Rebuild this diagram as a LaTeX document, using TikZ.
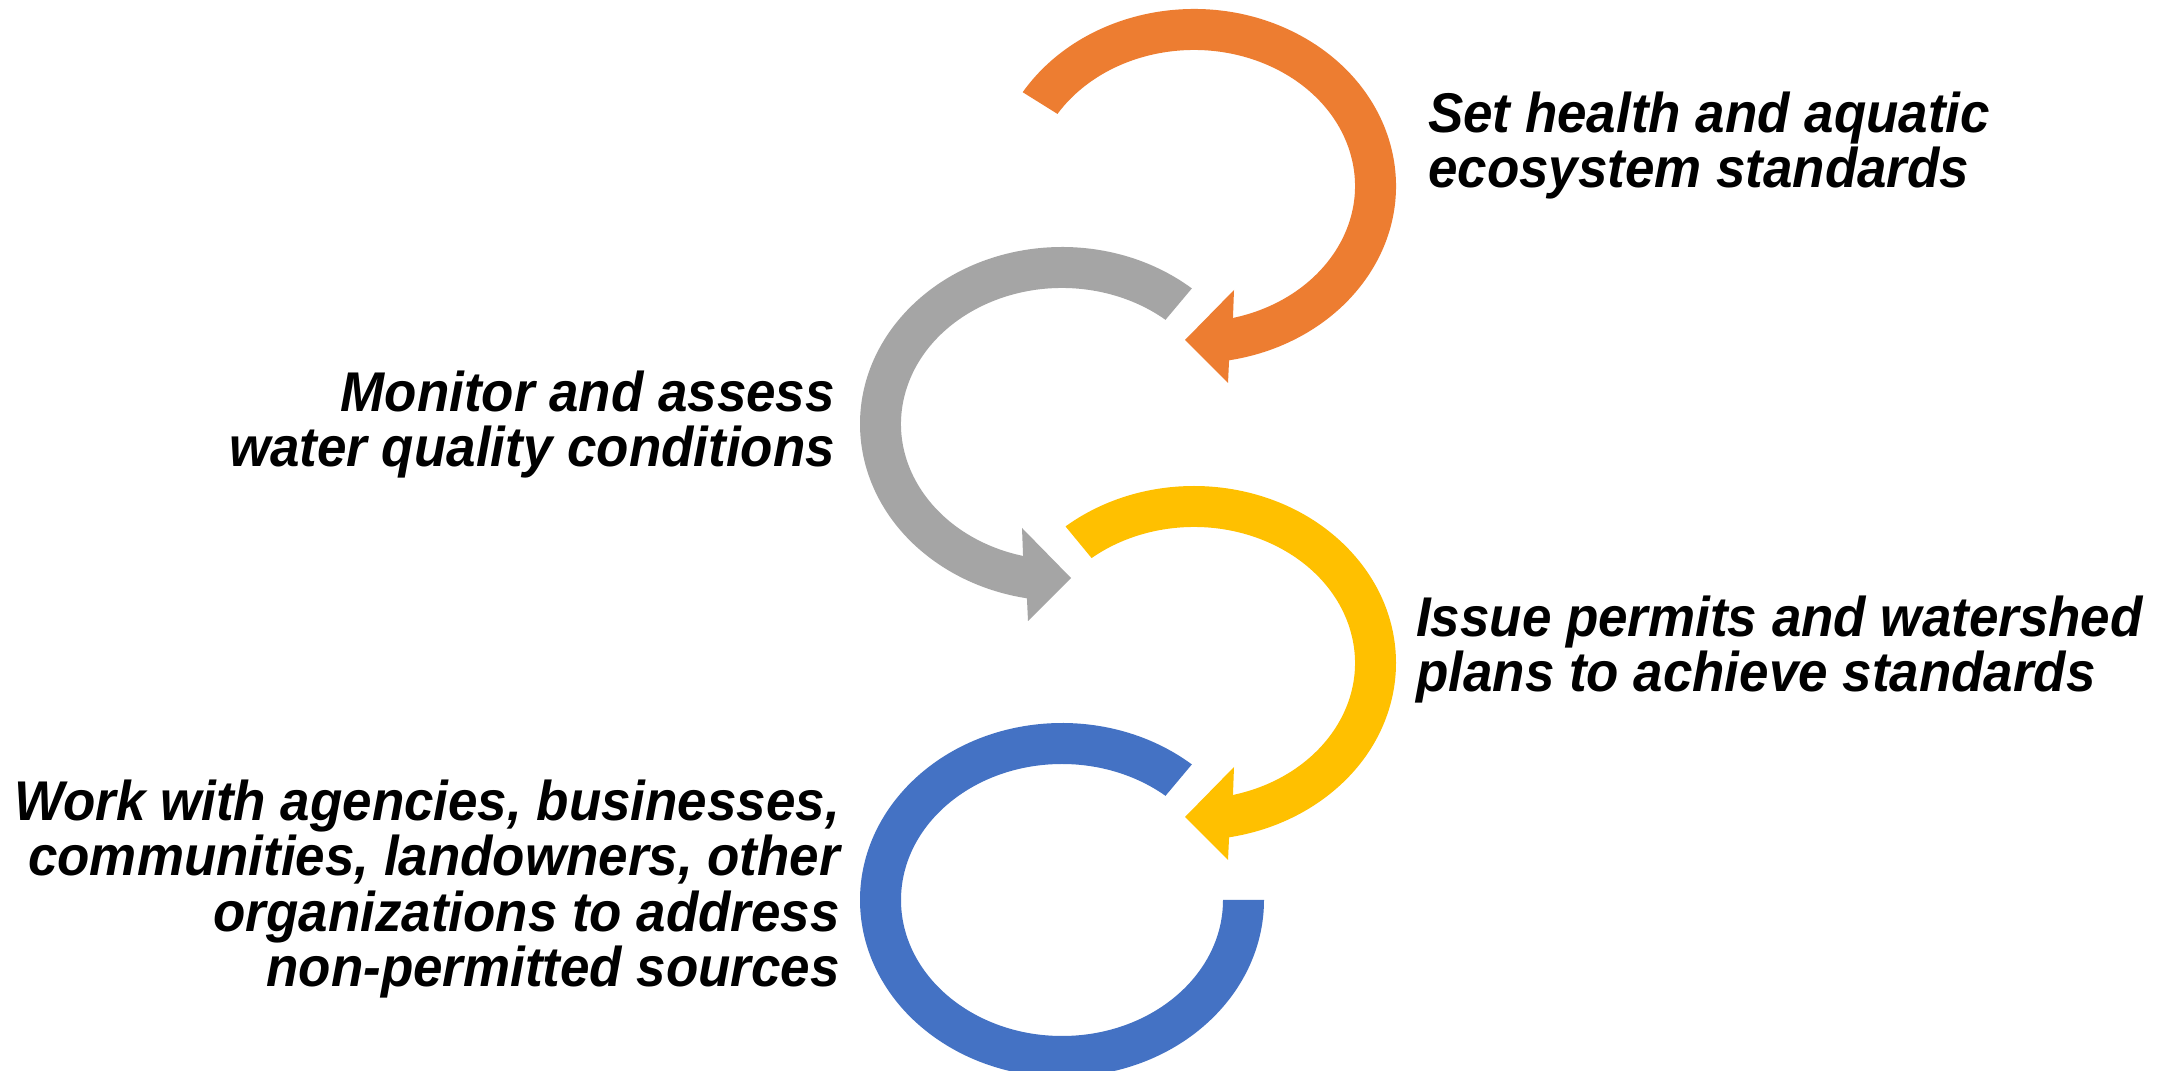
\documentclass[tikz,border=0pt]{standalone}
\usepackage{fontspec}
\usetikzlibrary{calc}
\newfontfamily\labfont{Liberation Sans}[FakeStretch=0.945]
\definecolor{arOrange}{HTML}{ED7D31}
\definecolor{arGray}{HTML}{A5A5A5}
\definecolor{arYellow}{HTML}{FFC000}
\definecolor{arBlue}{HTML}{4472C4}
\begin{document}
\begin{tikzpicture}[x=1pt,y=1pt,
  lab/.style={font=\labfont\bfseries\itshape\fontsize{56}{55.5}\selectfont, inner sep=0pt, text=black},
  outerR/.style={x radius=202pt, y radius=177pt},
  innerR/.style={x radius=161pt, y radius=136pt}]
\useasboundingbox (0,0) rectangle (2172,1071);
\fill[white] (0,0) rectangle (2172,1071);
\begin{scope}
\clip (0,0) rectangle (2172,1071);
% centres
\coordinate (oc) at (1194,885);
\coordinate (gc) at (1062,647);
\coordinate (yc) at (1194,408);
\coordinate (bc) at (1062,171);
% orange arrow (clockwise)
\fill[arOrange] ($(oc)+(148:202pt and 177pt)$) arc[start angle=148, end angle=-80, outerR]
  -- ($(oc)+(34,-197)$) -- ($(oc)+(-9,-154)$) -- ($(oc)+(40,-104)$)
  -- ($(oc)+(-76:161pt and 136pt)$) arc[start angle=-76, end angle=148, innerR] -- cycle;
% gray arrow (counter-clockwise)
\fill[arGray] ($(gc)+(50:202pt and 177pt)$) arc[start angle=50, end angle=260, outerR]
  -- ($(gc)+(-34,-197)$) -- ($(gc)+(9,-154)$) -- ($(gc)+(-40,-104)$)
  -- ($(gc)+(256:161pt and 136pt)$) arc[start angle=256, end angle=50, innerR] -- cycle;
% yellow arrow (clockwise)
\fill[arYellow] ($(yc)+(129.5:202pt and 177pt)$) arc[start angle=129.5, end angle=-80, outerR]
  -- ($(yc)+(34,-197)$) -- ($(yc)+(-9,-154)$) -- ($(yc)+(40,-104)$)
  -- ($(yc)+(-76:161pt and 136pt)$) arc[start angle=-76, end angle=129.5, innerR] -- cycle;
% blue open ring
\fill[arBlue] ($(bc)+(50:202pt and 177pt)$) arc[start angle=50, end angle=360, outerR]
  -- ($(bc)+(161,0)$) arc[start angle=360, end angle=50, innerR] -- cycle;
\end{scope}
% labels (base anchor = baseline of the last line)
\node[lab, anchor=base west, align=left] (t1) at (1428,883) {Set health and aquatic\\ecosystem standards};
\node[lab, anchor=base east, align=right] (t2) at (835,604) {Monitor and assess\\water quality conditions};
\node[lab, anchor=base west, align=left] (t3) at (1416,379) {Issue permits and watershed\\plans to achieve standards};
\node[lab, anchor=base east, align=right] (t4) at (840,84) {Work with agencies, businesses,\\communities, landowners, other\\organizations to address\\non-permitted sources};
\end{tikzpicture}
\end{document}
